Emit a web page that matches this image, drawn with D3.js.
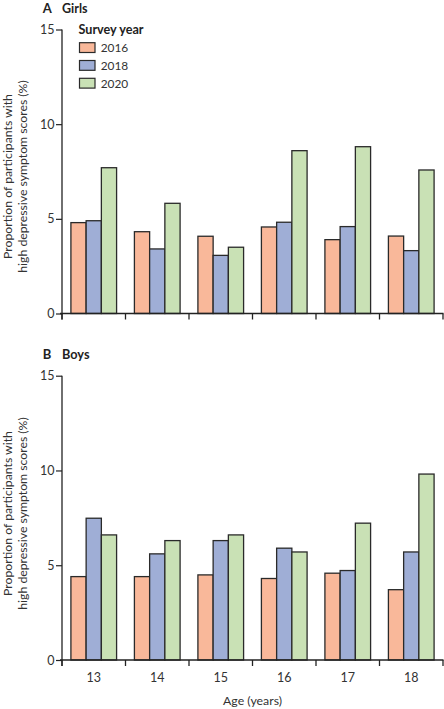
<!DOCTYPE html>
<html><head><meta charset="utf-8">
<script src="https://cdn.jsdelivr.net/npm/d3@7"></script>
<style>
body{margin:0;background:#fff;}
svg{display:block;font-family:Lato, "Open Sans", sans-serif;}
</style></head>
<body><svg id="c" width="444" height="709"></svg>
<script>
const ages = ["13","14","15","16","17","18"];
const years = ["2016","2018","2020"];
const yTicks = [0,5,10,15];
const girls2016 = [4.8,4.32,4.08,4.57,3.9,4.09];
const girls2018 = [4.9,3.41,3.07,4.82,4.59,3.32];
const girls2020 = [7.7,5.82,3.5,8.6,8.81,7.58];
const boys2016 = [4.4,4.4,4.49,4.3,4.58,3.71];
const boys2018 = [7.48,5.6,6.3,5.9,4.72,5.7];
const boys2020 = [6.6,6.3,6.6,5.7,7.22,9.81];
const colors = ["#F9B89A","#9FAED6","#C9E1B5"];

const svg = d3.select("#c");
const left = 62, right = 443;
const x0 = d3.scaleBand().domain(ages).range([left, right]).padding(0);
const x1 = d3.scaleBand().domain(years).range([0, x0.bandwidth()]).paddingInner(0).paddingOuter(0.585);
const color = d3.scaleOrdinal().domain(years).range(colors);

function fit(sel, w, node){
  const n = (node || sel).node();
  const L = n.getComputedTextLength();
  const fs = parseFloat(sel.attr("font-size"));
  if (L > 0) sel.attr("font-size", (fs*w/L).toFixed(2));
}

function panel(letter, name, series, top, bottom, showXLabels, titleCy){
  const g = svg.append("g");
  const y = d3.scaleLinear().domain([0,15]).range([bottom, top]);
  const base = top - 16.7;
  g.append("text").attr("x",42.7).attr("y",base).attr("font-size",13).attr("font-weight","bold").attr("fill","#222").text(letter);
  const N = g.append("text").attr("x",62).attr("y",base).attr("font-size",12).attr("font-weight","bold").attr("fill","#222").text(name);
  fit(N, name === "Girls" ? 25.5 : 27.5);
  // bars
  ages.forEach((a,i)=>{
    years.forEach((yr,j)=>{
      const v = series[j][i];
      g.append("rect").attr("x",x0(a)+x1(yr)).attr("y",y(v)).attr("width",x1.bandwidth()).attr("height",y(0)-y(v))
        .attr("fill",color(yr)).attr("stroke","#2a2a2a").attr("stroke-width",1.3);
    });
  });
  // y axis
  const ya = g.append("g").attr("transform",`translate(${left},0)`).call(d3.axisLeft(y).tickValues(yTicks).tickSize(6).tickPadding(1.5));
  ya.select(".domain").attr("stroke","#222").attr("stroke-width",1.3).attr("d",`M0,${y(15)}V${bottom+6}`);
  ya.selectAll(".tick line").attr("stroke","#222").attr("stroke-width",1.2);
  ya.selectAll("text").attr("font-size",12.5).attr("fill","#333").attr("font-family","Lato, sans-serif");
  // x axis
  const xa = g.append("g").attr("transform",`translate(0,${bottom})`);
  xa.append("line").attr("x1",left-2).attr("x2",right+0.5).attr("y1",0).attr("y2",0).attr("stroke","#222").attr("stroke-width",1.4);
  const bounds = ages.map(a=>x0(a)).concat([right]);
  xa.selectAll("line.tk").data(bounds).enter().append("line").attr("class","tk")
    .attr("x1",d=>d).attr("x2",d=>d).attr("y1",0).attr("y2",6).attr("stroke","#222").attr("stroke-width",1.3);
  if(showXLabels){
    xa.selectAll("text").data(ages).enter().append("text").attr("x",d=>x0(d)+x0.bandwidth()/2).attr("y",21.5)
      .attr("text-anchor","middle").attr("font-size",12.5).attr("fill","#333").text(d=>d);
  }
  // y title
  const t = g.append("text").attr("transform",`translate(12,${titleCy}) rotate(-90)`).attr("text-anchor","middle").attr("font-size",12.3).attr("fill","#333");
  t.append("tspan").attr("x",0).attr("dy",0).text("Proportion of participants with");
  const t2 = t.append("tspan").attr("x",0).attr("dy",14.7).text("high depressive symptom scores (%)");
  fit(t, 192.5, t2);
}

panel("A","Girls",[girls2016,girls2018,girls2020],29.5,313.5,false,176.5);
panel("B","Boys",[boys2016,boys2018,boys2020],375.7,660,true,513.5);

// legend
const lg = svg.append("g");
const st = lg.append("text").attr("x",78.5).attr("y",33.5).attr("font-size",12.5).attr("font-weight","bold").attr("fill","#222").text("Survey year");
fit(st, 65);
years.forEach((yr,i)=>{
  const yy = 42.7 + i*17.8;
  lg.append("rect").attr("x",79.5).attr("y",yy).attr("width",15.5).attr("height",9.8).attr("fill",color(yr)).attr("stroke","#2a2a2a").attr("stroke-width",1.2);
  const lt = lg.append("text").attr("x",100.7).attr("y",yy+9.5).attr("font-size",13).attr("fill","#333").text(yr);
  fit(lt, 27.6);
});

const ax = svg.append("text").attr("x",(left+right)/2).attr("y",705).attr("text-anchor","middle").attr("font-size",12).attr("fill","#333").text("Age (years)");
fit(ax, 59);
</script></body></html>
